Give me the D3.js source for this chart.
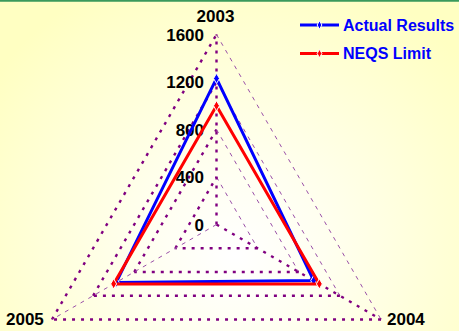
<!DOCTYPE html>
<html>
<head>
<meta charset="utf-8">
<script src="https://cdn.jsdelivr.net/npm/d3@7"></script>
<style>
  html, body { margin: 0; padding: 0; background: #ffffcc; }
  svg { display: block; }
  text { font-family: "Liberation Sans", Arial, sans-serif; font-weight: bold; }
</style>
</head>
<body>
<svg id="chart" width="459" height="331"></svg>
<script>
// Radar chart data
const categories = ["2003", "2004", "2005"];
const actualResults = [1230, 945, 975];
const neqsLimit = [1000, 1000, 1000];
const tickValues = [0, 400, 800, 1200, 1600];
const seriesNames = ["Actual Results", "NEQS Limit"];
const seriesColors = ["#0000ff", "#ff0000"];

const W = 459, H = 331;
const cx = 216.5, cy = 224.5, R = 190;

const svg = d3.select("#chart");
const defs = svg.append("defs");

// soft radial background
const grad = defs.append("radialGradient")
  .attr("id", "bg").attr("gradientUnits", "userSpaceOnUse")
  .attr("cx", 235).attr("cy", 255).attr("r", 300);
grad.append("stop").attr("offset", "0%").attr("stop-color", "#ffffff");
grad.append("stop").attr("offset", "30%").attr("stop-color", "#fffff0");
grad.append("stop").attr("offset", "100%").attr("stop-color", "#ffffc2");
svg.append("rect").attr("width", W).attr("height", H).attr("fill", "url(#bg)");
svg.append("line").attr("x1", 0).attr("x2", W).attr("y1", 0.8).attr("y2", 0.8)
  .attr("stroke", "#3a9a5c").attr("stroke-width", 2);

const r = d3.scaleLinear().domain([0, 1600]).range([0, R]);
const angle = d3.scalePoint().domain(categories).range([0, 2 * Math.PI * 2 / 3]);

const g = svg.append("g").attr("transform", `translate(${cx},${cy})`);

function pt(cat, v) {
  const a = angle(cat);
  return [r(v) * Math.sin(a), -r(v) * Math.cos(a)];
}

const thick = { stroke: "#800080", width: 2.4, dash: "3,6" };
const thin = { stroke: "#9a50a8", width: 1, dash: "4,5" };

function seg(p1, p2, s) {
  g.append("line")
    .attr("x1", p1[0]).attr("y1", p1[1]).attr("x2", p2[0]).attr("y2", p2[1])
    .attr("stroke", s.stroke).attr("stroke-width", s.width)
    .attr("stroke-dasharray", s.dash);
}

// web rings
tickValues.filter(v => v > 0).forEach(v => {
  const a = pt("2003", v), b = pt("2004", v), c = pt("2005", v);
  seg(c, a, thick);
  seg(a, b, thin);
  seg(b, c, thick);
});

// spokes
seg([0, 0], pt("2003", 1600), thick);
seg([0, 0], pt("2004", 1600), thick);
seg([0, 0], pt("2005", 1600), thin);

// value axis labels along the 2003 spoke
tickValues.forEach(v => {
  g.append("text")
    .attr("x", -12.5).attr("y", -r(v) + 6)
    .attr("text-anchor", "end")
    .attr("font-size", 17).attr("fill", "#000")
    .text(v);
});

// category labels
const catPos = { "2003": [215.5, 21.5, "middle"], "2004": [387, 325, "start"], "2005": [6, 325, "start"] };
categories.forEach(c => {
  const p = catPos[c];
  svg.append("text").attr("x", p[0]).attr("y", p[1]).attr("text-anchor", p[2])
    .attr("font-size", 17).attr("fill", "#000").text(c);
});

// series polygons
const radial = d3.lineRadial()
  .angle((d, i) => angle(categories[i]))
  .radius(d => r(d))
  .curve(d3.curveLinearClosed);

const diamond = d3.symbol().type(d3.symbolDiamond).size(30);

[actualResults, neqsLimit].forEach((vals, k) => {
  g.append("path").attr("d", radial(vals))
    .attr("fill", "none").attr("stroke", seriesColors[k]).attr("stroke-width", 3)
    .attr("stroke-linejoin", "miter");
  vals.forEach((v, i) => {
    const p = pt(categories[i], v);
    g.append("path").attr("d", diamond)
      .attr("transform", `translate(${p[0]},${p[1]})`)
      .attr("fill", seriesColors[k]).attr("stroke", "#fff").attr("stroke-width", 1);
  });
});

// legend
const legend = svg.append("g");
seriesNames.forEach((name, k) => {
  const y = 25 + k * 28.5;
  legend.append("line").attr("x1", 300).attr("x2", 339).attr("y1", y).attr("y2", y)
    .attr("stroke", seriesColors[k]).attr("stroke-width", 3);
  legend.append("path").attr("d", d3.symbol().type(d3.symbolDiamond).size(20))
    .attr("transform", `translate(319.5,${y})`)
    .attr("fill", seriesColors[k]).attr("stroke", "#fff").attr("stroke-width", 1);
  legend.append("text").attr("x", 343).attr("y", y + 5.5)
    .attr("font-size", 16).attr("fill", "#0000ff").text(name);
});
</script>
</body>
</html>
